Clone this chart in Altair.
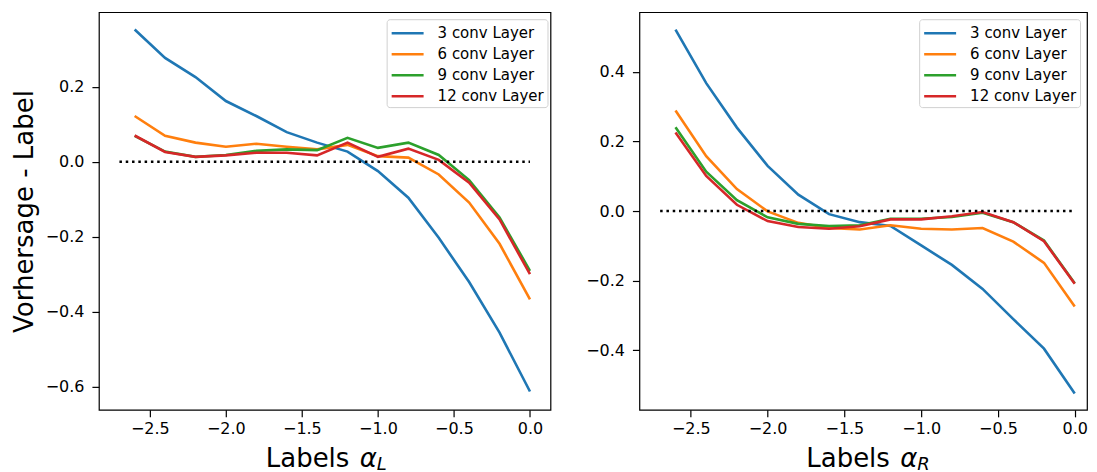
import altair as alt
import pandas as pd

# ---------------- data ----------------
xs = [-2.6, -2.4, -2.2, -2.0, -1.8, -1.6, -1.4, -1.2, -1.0, -0.8, -0.6, -0.4, -0.2, 0.0]
series_names = ["3 conv Layer", "6 conv Layer", "9 conv Layer", "12 conv Layer"]
series_colors = ["#1f77b4", "#ff7f0e", "#2ca02c", "#d62728"]

left_3 = [0.353, 0.277, 0.226, 0.162, 0.122, 0.079, 0.051, 0.027, -0.025, -0.096, -0.203, -0.321, -0.456, -0.613]
left_6 = [0.122, 0.069, 0.051, 0.040, 0.048, 0.040, 0.033, 0.045, 0.015, 0.011, -0.034, -0.109, -0.219, -0.367]
left_9 = [0.069, 0.027, 0.013, 0.018, 0.029, 0.033, 0.031, 0.064, 0.037, 0.051, 0.018, -0.049, -0.149, -0.291]
left_12 = [0.070, 0.026, 0.013, 0.017, 0.024, 0.024, 0.017, 0.051, 0.013, 0.035, 0.005, -0.056, -0.154, -0.300]

right_3 = [0.522, 0.368, 0.240, 0.130, 0.047, -0.009, -0.032, -0.043, -0.099, -0.155, -0.224, -0.311, -0.396, -0.525]
right_6 = [0.289, 0.158, 0.063, -0.001, -0.034, -0.049, -0.053, -0.041, -0.051, -0.053, -0.049, -0.088, -0.149, -0.275]
right_9 = [0.241, 0.113, 0.031, -0.018, -0.037, -0.043, -0.041, -0.022, -0.022, -0.017, -0.005, -0.032, -0.085, -0.208]
right_12 = [0.226, 0.101, 0.018, -0.029, -0.046, -0.051, -0.044, -0.024, -0.024, -0.015, -0.003, -0.032, -0.087, -0.209]

ref_x = [-2.7, 0.0]
ref_y = [0.0, 0.0]

left_yticks = [-0.6, -0.4, -0.2, 0.0, 0.2]
right_yticks = [-0.4, -0.2, 0.0, 0.2, 0.4]
xticks = [-2.5, -2.0, -1.5, -1.0, -0.5, 0.0]

FONT = "DejaVu Sans"
W_LEFT, W_RIGHT, H = 452, 448, 398


def long_df(cols):
    rows = []
    for name, vals in zip(series_names, cols):
        for x, y in zip(xs, vals):
            rows.append({"x": x, "y": y, "series": name})
    return pd.DataFrame(rows)


def panel(cols, ydom, yticks, xdom, width, ytitle, sub, legend_x):
    df = long_df(cols)
    xscale = alt.Scale(domain=xdom, nice=False, zero=False)
    yscale = alt.Scale(domain=ydom, nice=False, zero=False)
    xaxis = alt.Axis(values=xticks, format=".1f", title=None)
    yaxis = alt.Axis(values=yticks, format=".1f", title=ytitle)

    lines = alt.Chart(df).mark_line(strokeWidth=2.6).encode(
        x=alt.X("x:Q", scale=xscale, axis=xaxis),
        y=alt.Y("y:Q", scale=yscale, axis=yaxis),
        color=alt.Color(
            "series:N",
            scale=alt.Scale(domain=series_names, range=series_colors),
            sort=series_names,
            legend=alt.Legend(
                title=None, orient="none", legendX=legend_x, legendY=7,
                fillColor="white", strokeColor="#d0d0d0",
                cornerRadius=3, padding=3,
                symbolType="M-1.64,0L1.64,0", symbolSize=380,
                symbolStrokeWidth=2.5, symbolOffset=7,
                labelFontSize=15, labelFont=FONT, labelColor="black",
                rowPadding=2, labelOffset=19,
            ),
        ),
        detail="series:N",
    )

    ref = alt.Chart(pd.DataFrame({"x": ref_x, "y": ref_y})).mark_line(
        color="black", strokeWidth=2.5, strokeDash=[2.5, 3.8], strokeCap="butt"
    ).encode(x=alt.X("x:Q", scale=xscale), y=alt.Y("y:Q", scale=yscale))

    t1 = alt.Chart(pd.DataFrame({"t": ["Labels"]})).mark_text(
        font=FONT, fontSize=26, align="left", baseline="alphabetic", color="black"
    ).encode(text="t:N", x=alt.value(167), y=alt.value(455))
    t2 = alt.Chart(pd.DataFrame({"t": ["α"]})).mark_text(
        font=FONT, fontSize=26, fontStyle="italic", align="left",
        baseline="alphabetic", color="black"
    ).encode(text="t:N", x=alt.value(261), y=alt.value(455))
    t3 = alt.Chart(pd.DataFrame({"t": [sub]})).mark_text(
        font=FONT, fontSize=18, fontStyle="italic", align="left",
        baseline="alphabetic", color="black"
    ).encode(text="t:N", x=alt.value(278), y=alt.value(458))

    return alt.layer(lines, ref, t1, t2, t3).properties(width=width, height=H)


left = panel([left_3, left_6, left_9, left_12], [-0.662, 0.399], left_yticks,
             [-2.835, 0.135], W_LEFT, "Vorhersage - Label", "L", 288)
right = panel([right_3, right_6, right_9, right_12], [-0.572, 0.572], right_yticks,
              [-2.835, 0.08], W_RIGHT, None, "R", 280)

chart = alt.hconcat(left, right, spacing=89, bounds="flush").resolve_scale(
    color="independent", y="independent", x="independent"
).resolve_legend(color="independent").properties(
    padding={"left": 2, "top": 3, "right": 0, "bottom": 0}
).configure_view(
    stroke="black", strokeWidth=1.2
).configure_axis(
    domain=False, grid=False, ticks=True, tickColor="black", tickSize=7,
    tickWidth=1.2, labelFont=FONT, labelFontSize=16, labelColor="black",
    titleFont=FONT, titleFontSize=26, titleFontWeight="normal", titleColor="black",
).configure_axisY(
    labelPadding=8, titlePadding=8
).configure_axisX(
    labelPadding=4
)

chart.save("out.html", embed_options={"renderer": "svg", "actions": False})
